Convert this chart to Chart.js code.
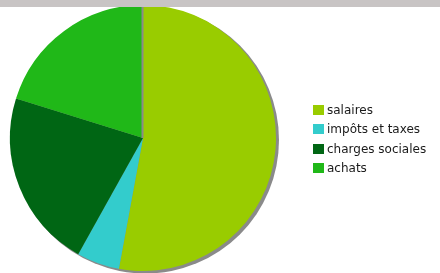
<!DOCTYPE html>
<html>
<head>
<meta charset="utf-8">
<script src="https://cdn.jsdelivr.net/npm/chart.js@4.4.0/dist/chart.umd.min.js"></script>
<style>
  html, body { margin: 0; padding: 0; background: #fff; }
  #wrap { position: relative; width: 440px; height: 273px; overflow: hidden; }
  #topbar { position: absolute; left: 0; top: 0; width: 440px; height: 7px; background: #c8c4c4; z-index: 2; }
  #legend { position: absolute; left: 313px; top: 101px; font: 12px "DejaVu Sans", Verdana, sans-serif; color: #1a1a1a; }
  #legend div { height: 19.3px; line-height: 19px; white-space: nowrap; }
  #legend span { display: inline-block; width: 11px; height: 10px; margin-right: 3px; vertical-align: -1px; }
</style>
</head>
<body>
<div id="wrap">
  <div id="topbar"></div>
  <canvas id="myChart" width="440" height="273"></canvas>
  <div id="legend"></div>
</div>
<script>
const labels = ['salaires', 'impôts et taxes', 'charges sociales', 'achats'];
const values = [52.9, 5.2, 21.7, 20.2];
const colors = ['#99cc00', '#33cccc', '#006614', '#20b818'];

// grey drop shadow under the pie, plus the thin line at the start angle
const shadow = {
  id: 'shadow',
  beforeDatasetsDraw(chart) {
    const arc = chart.getDatasetMeta(0).data[0];
    if (!arc) return;
    const ctx = chart.ctx;
    ctx.save();
    ctx.fillStyle = '#8a8a8a';
    ctx.beginPath();
    ctx.arc(arc.x + 2.5, arc.y + 2, arc.outerRadius + 0.5, 0, Math.PI * 2);
    ctx.fill();
    ctx.restore();
  },
  afterDatasetsDraw(chart) {
    const arc = chart.getDatasetMeta(0).data[0];
    if (!arc) return;
    const ctx = chart.ctx;
    ctx.save();
    ctx.fillStyle = '#8a8a8a';
    ctx.fillRect(arc.x - 1.5, arc.y - arc.outerRadius, 2, arc.outerRadius);
    ctx.restore();
  }
};

new Chart(document.getElementById('myChart'), {
  type: 'pie',
  data: {
    labels,
    datasets: [{
      data: values,
      backgroundColor: colors,
      borderWidth: 0
    }]
  },
  options: {
    responsive: false,
    devicePixelRatio: 1,
    animation: false,
    layout: { padding: { left: 10, top: 5, right: 164, bottom: 2 } },
    plugins: {
      legend: { display: false },
      tooltip: { enabled: false }
    }
  },
  plugins: [shadow]
});

const legend = document.getElementById('legend');
labels.forEach((l, i) => {
  const row = document.createElement('div');
  const box = document.createElement('span');
  box.style.background = colors[i];
  row.appendChild(box);
  row.appendChild(document.createTextNode(l));
  legend.appendChild(row);
});
</script>
</body>
</html>
